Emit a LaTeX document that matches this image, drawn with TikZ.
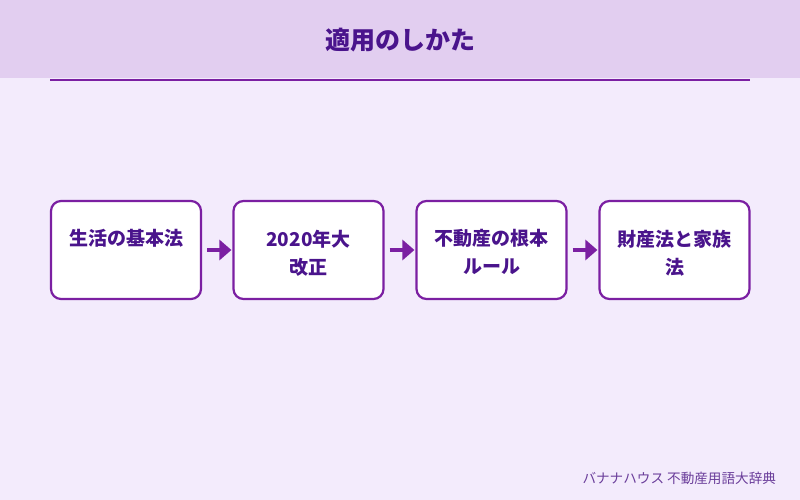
\documentclass[tikz,border=0pt]{standalone}
\usepackage{fontspec}
\setmainfont{Noto Sans CJK JP}
\usetikzlibrary{arrows.meta}
\definecolor{bgc}{HTML}{F3EBFC}
\definecolor{headc}{HTML}{E2CEF0}
\definecolor{linec}{HTML}{7B1FA2}
\definecolor{txtc}{HTML}{4A148C}
\definecolor{footc}{HTML}{6A3D9A}
\tikzset{
  stepbox/.style={draw=linec, line width=2.2pt, fill=white, rounded corners=10pt, minimum width=150pt, minimum height=98pt, inner sep=0pt},
  steptxt/.style={text=txtc, font=\fontsize{19}{28}\selectfont\bfseries, align=center, anchor=north, inner sep=0pt},
  flow/.style={draw=linec, line width=4pt, -{Triangle[length=12pt,width=20pt]}}
}
\begin{document}
\begin{tikzpicture}[x=1pt,y=-1pt]
\useasboundingbox (0,0) rectangle (800,500);
\fill[bgc] (0,0) rectangle (800,500);
\fill[headc] (0,0) rectangle (800,78);
\draw[linec, line width=2pt] (50,80.5) -- (750,80.5);
\node[text=txtc, font=\fontsize{25}{30}\selectfont\bfseries] (title) at (400,40) {適用のしかた};
\node[stepbox] (b1) at (126,250) {};
\node[stepbox] (b2) at (308.5,250) {};
\node[stepbox] (b3) at (491.5,250) {};
\node[stepbox] (b4) at (674.5,250) {};
\node[steptxt] (t1) at (126,229.5) {生活の基本法};
\node[steptxt] (t2) at (308.5,229.5) {2020年大\\改正};
\node[steptxt] (t3) at (491.5,229.5) {不動産の根本\\ルール};
\node[steptxt] (t4) at (674.5,229.5) {財産法と家族\\法};
\draw[flow] ([xshift=5pt]b1.east) -- ([xshift=-1pt]b2.west);
\draw[flow] ([xshift=5pt]b2.east) -- ([xshift=-1pt]b3.west);
\draw[flow] ([xshift=5pt]b3.east) -- ([xshift=-1pt]b4.west);
\node[text=footc, font=\fontsize{13.6}{16}\selectfont, anchor=east] (foot) at (779.5,478) {バナナハウス 不動産用語大辞典};
\end{tikzpicture}
\end{document}
